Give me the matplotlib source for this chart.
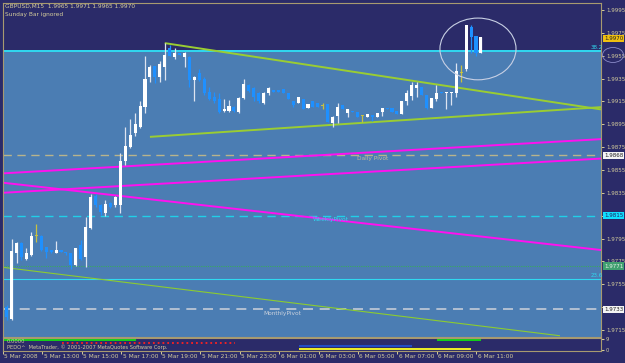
import numpy as np
import matplotlib
matplotlib.use("Agg")
import matplotlib.pyplot as plt
from matplotlib import font_manager
from matplotlib.patches import Ellipse
import matplotlib.transforms as mtransforms

# ---- data (GBPUSD M15) ----
opens = [1.9750, 1.9735, 1.9725, 1.9782, 1.9791, 1.9777, 1.9781, 1.9797, 1.9797, 1.9788,
         1.9785, 1.9782, 1.9785, 1.9783, 1.9782, 1.9772, 1.9789, 1.9779, 1.9804, 1.9832,
         1.9824, 1.9817, 1.9826, 1.9824, 1.9824, 1.9863, 1.9875, 1.9887, 1.9893, 1.9910,
         1.9936, 1.9946, 1.9936, 1.9945, 1.9962, 1.9954, 1.9957, 1.9954, 1.9954, 1.9934,
         1.9940, 1.9935, 1.9923, 1.9919, 1.9917, 1.9907, 1.9907, 1.9910, 1.9906, 1.9918,
         1.9929, 1.9927, 1.9922, 1.9914, 1.9922, 1.9925, 1.9925, 1.9926, 1.9922, 1.9915,
         1.9914, 1.9917, 1.9909, 1.9915, 1.9914, 1.9911, 1.9913, 1.9896, 1.9902, 1.9912,
         1.9905, 1.9907, 1.9906, 1.9902, 1.9901, 1.9903, 1.9901, 1.9906, 1.9909, 1.9909,
         1.9907, 1.9904, 1.9915, 1.9920, 1.9927, 1.9928, 1.9921, 1.9909, 1.9917, 1.9923,
         1.9922, 1.9922, 1.9922, 1.9940, 1.9943, 1.9980, 1.9972, 1.9957]
highs = [1.9750, 1.9737, 1.9795, 1.9792, 1.9792, 1.9787, 1.9801, 1.9808, 1.9798, 1.9788,
         1.9785, 1.9793, 1.9785, 1.9783, 1.9782, 1.9787, 1.9794, 1.9814, 1.9834, 1.9834,
         1.9825, 1.9829, 1.9827, 1.9832, 1.9870, 1.9893, 1.9900, 1.9905, 1.9915, 1.9955,
         1.9947, 1.9946, 1.9950, 1.9966, 1.9964, 1.9962, 1.9957, 1.9958, 1.9955, 1.9937,
         1.9943, 1.9936, 1.9928, 1.9923, 1.9922, 1.9917, 1.9916, 1.9911, 1.9919, 1.9935,
         1.9930, 1.9928, 1.9923, 1.9923, 1.9928, 1.9925, 1.9925, 1.9926, 1.9922, 1.9915,
         1.9919, 1.9917, 1.9913, 1.9915, 1.9914, 1.9914, 1.9913, 1.9902, 1.9914, 1.9912,
         1.9908, 1.9907, 1.9906, 1.9903, 1.9904, 1.9903, 1.9905, 1.9909, 1.9909, 1.9909,
         1.9907, 1.9915, 1.9925, 1.9932, 1.9932, 1.9928, 1.9921, 1.9918, 1.9929, 1.9923,
         1.9923, 1.9923, 1.9949, 1.9947, 1.9982, 1.9982, 1.9972, 1.9971]
lows = [1.9724, 1.9724, 1.9724, 1.9774, 1.9776, 1.9776, 1.9780, 1.9792, 1.9784, 1.9778,
        1.9782, 1.9782, 1.9783, 1.9781, 1.9768, 1.9771, 1.9776, 1.9770, 1.9803, 1.9823,
        1.9816, 1.9815, 1.9822, 1.9823, 1.9817, 1.9859, 1.9874, 1.9885, 1.9892, 1.9905,
        1.9932, 1.9931, 1.9932, 1.9934, 1.9955, 1.9952, 1.9956, 1.9945, 1.9928, 1.9915,
        1.9933, 1.9921, 1.9916, 1.9914, 1.9905, 1.9906, 1.9906, 1.9906, 1.9905, 1.9917,
        1.9923, 1.9915, 1.9914, 1.9913, 1.9921, 1.9923, 1.9923, 1.9922, 1.9917, 1.9910,
        1.9914, 1.9908, 1.9909, 1.9910, 1.9910, 1.9908, 1.9897, 1.9893, 1.9896, 1.9908,
        1.9901, 1.9906, 1.9901, 1.9897, 1.9901, 1.9898, 1.9901, 1.9902, 1.9908, 1.9906,
        1.9904, 1.9904, 1.9912, 1.9916, 1.9919, 1.9921, 1.9908, 1.9909, 1.9915, 1.9922,
        1.9908, 1.9912, 1.9919, 1.9932, 1.9942, 1.9957, 1.9955, 1.9957]
closes = [1.9737, 1.9726, 1.9784, 1.9791, 1.9779, 1.9782, 1.9797, 1.9797, 1.9785, 1.9783,
          1.9783, 1.9785, 1.9783, 1.9782, 1.9772, 1.9787, 1.9777, 1.9805, 1.9831, 1.9824,
          1.9818, 1.9825, 1.9823, 1.9831, 1.9863, 1.9876, 1.9886, 1.9895, 1.9911, 1.9935,
          1.9945, 1.9936, 1.9948, 1.9956, 1.9955, 1.9957, 1.9956, 1.9957, 1.9934, 1.9936,
          1.9934, 1.9922, 1.9917, 1.9915, 1.9906, 1.9908, 1.9911, 1.9907, 1.9918, 1.9930,
          1.9924, 1.9919, 1.9915, 1.9922, 1.9927, 1.9923, 1.9923, 1.9922, 1.9917, 1.9912,
          1.9919, 1.9908, 1.9913, 1.9910, 1.9910, 1.9911, 1.9897, 1.9901, 1.9910, 1.9908,
          1.9908, 1.9906, 1.9901, 1.9902, 1.9904, 1.9901, 1.9905, 1.9909, 1.9908, 1.9906,
          1.9904, 1.9915, 1.9922, 1.9929, 1.9929, 1.9921, 1.9909, 1.9918, 1.9922, 1.9922,
          1.9923, 1.9923, 1.9942, 1.9940, 1.9982, 1.9971, 1.9957, 1.9971]

time_labels = ["5 Mar 2008", "5 Mar 13:00", "5 Mar 15:00", "5 Mar 17:00", "5 Mar 19:00",
               "5 Mar 21:00", "5 Mar 23:00", "6 Mar 01:00", "6 Mar 03:00", "6 Mar 05:00",
               "6 Mar 07:00", "6 Mar 09:00", "6 Mar 11:00"]
price_ticks = [1.9715, 1.9735, 1.9755, 1.9775, 1.9795, 1.9815, 1.9835, 1.9855, 1.9875,
               1.9895, 1.9915, 1.9935, 1.9955, 1.9975, 1.9995]

daily_pivot = 1.9868
weekly_pivot = 1.9815
monthly_pivot = 1.9733
green_level = 1.9771
fib_382 = 1.99592
fib_236 = 1.97596
last_price = 1.9970

# trend lines: (bar0, price0, bar1, price1)
tri_upper = (33, 1.9966, 121.3, 1.9908)
tri_lower = (30, 1.9884, 121.3, 1.9910)
long_green = (0, 1.9770, 113, 1.9710)
magenta_lines = [(0, 1.9852, 121.3, 1.9882),
                 (0, 1.9835, 121.3, 1.9865),
                 (0, 1.9844, 121.3, 1.9785)]

# sub-window indicator segments: (first bar, last bar, level)
ind_green = [(0, 27, 8.4), (88, 97, 8.4)]
ind_red = [(12, 47, 6.0)]
ind_blue = [(60, 83, 3.5)]
ind_yellow = [(60, 95, 1.1)]

# ---- look ----
names = {f.name for f in font_manager.fontManager.ttflist}
FONT = "Liberation Sans Narrow" if "Liberation Sans Narrow" in names else "DejaVu Sans"
plt.rcParams["font.family"] = [FONT, "DejaVu Sans"]
FS = 5.0 if FONT != "DejaVu Sans" else 4.0

NAVY = "#2b2b69"
FILL = "#4b7db3"
FRAME = "#a89a70"
TXT = "#d4cc9c"
BULL = "white"
BEAR = "#1e90ff"
DOJI = "#c8c040"

W, H = 625, 363
fig = plt.figure(figsize=(W / 100, H / 100), dpi=100, facecolor=NAVY)
ax = fig.add_axes([3 / W, (H - 337) / H, 598 / W, 334 / H])
sub = fig.add_axes([3 / W, (H - 351) / H, 598 / W, 13 / H])

x0, x1 = 0.26, 121.3
y0, y1 = 1.97089, 2.00011
ax.set_xlim(x0, x1)
ax.set_ylim(y0, y1)
ax.set_facecolor(NAVY)
ax.axhspan(y0, fib_382 + 0.00005, facecolor=FILL, edgecolor="none", zorder=0)

# horizontal levels
ax.axhline(fib_382, color="#30d8f0", lw=1.4, zorder=1)
ax.axhline(fib_236, color="#30d8f0", lw=0.8, zorder=1)
ax.axhline(daily_pivot, color="#b8b48c", lw=1.0, dashes=(6, 4), zorder=1)
ax.axhline(weekly_pivot, color="#20d0e8", lw=1.0, dashes=(6, 4), zorder=1)
ax.axhline(monthly_pivot, color="#c4ccd8", lw=1.2, dashes=(6, 4), zorder=1)
ax.axhline(green_level, color="#3aa860", lw=0.8, dashes=(1, 1), zorder=1)

# trend lines
for (a0, p0, a1, p1), c, lw in [(tri_upper, "#9acd32", 1.4), (tri_lower, "#9acd32", 1.4),
                                 (long_green, "#8ccc30", 0.8)]:
    ax.plot([a0, a1], [p0, p1], color=c, lw=lw, zorder=2, solid_capstyle="butt")
for a0, p0, a1, p1 in magenta_lines:
    ax.plot([a0, a1], [p0, p1], color="#ff10f0", lw=1.4, zorder=2)

# candles
o = np.array(opens); h = np.array(highs); l = np.array(lows); c = np.array(closes)
idx = np.arange(len(o))
cols = np.where(c > o, BULL, np.where(c < o, BEAR, DOJI))
wick_cols = np.where(c > o, "#dde4f0", np.where(c < o, BEAR, DOJI))
ax.vlines(idx, l, h, colors=wick_cols, lw=0.9, zorder=3)
body_lo = np.minimum(o, c)
body_h = np.maximum(np.abs(c - o), 0.00009)
ax.bar(idx, body_h, bottom=body_lo, width=0.62, color=cols, edgecolor="none", zorder=4)

# circle around the breakout
ax.add_patch(Ellipse((96.4, 1.99609), 15.4, 0.0054, fill=False, edgecolor="#c8d0e4",
                     lw=0.8, zorder=5))

# level labels on the chart
ax.text(72, daily_pivot - 0.0001, "Daily Pivot", color="#c4bc98", fontsize=FS + 0.2,
        va="top", zorder=6)
ax.text(63, weekly_pivot - 0.0001, "WeeklyPivot", color="#30d8f0", fontsize=FS + 0.2,
        va="top", zorder=6)
ax.text(53, monthly_pivot - 0.0001, "MonthlyPivot", color="#c8d0dc", fontsize=FS + 0.2,
        va="top", zorder=6)
ax.text(119.2, fib_382 + 0.0001, "38.2", color="#30d8f0", fontsize=FS, va="bottom", zorder=6)
ax.text(119.2, fib_236 + 0.0001, "23.6", color="#30d8f0", fontsize=FS, va="bottom", zorder=6)

# right price axis
ax.yaxis.tick_right()
ax.set_yticks(price_ticks)
ax.set_yticklabels(["" if p in (1.9815, 1.9735) else f"{p:.4f}" for p in price_ticks])
ax.tick_params(axis="y", colors=TXT, labelsize=FS, length=2.5, width=0.7, pad=1)
ax.set_xticks([])
for s in ax.spines.values():
    s.set_color(FRAME)
    s.set_linewidth(0.8)

# price boxes on axis
trans = mtransforms.blended_transform_factory(ax.transAxes, ax.transData)
for val, fc, tc in [(last_price, "#f0c010", "#202020"), (daily_pivot, "#f4f4f4", "#202020"),
                    (weekly_pivot, "#10e0ff", "#202060"), (green_level, "#40a070", "#e8f0e8"),
                    (monthly_pivot, "#f4f4f4", "#202020")]:
    ax.text(1.005, val, f"{val:.4f}", transform=trans, fontsize=FS, color=tc, va="center",
            ha="left", zorder=10, clip_on=False,
            bbox=dict(boxstyle="square,pad=0.2", fc=fc, ec="none"))

# small ellipse around 1.9955 label
fig.patches.append(Ellipse((613 / W, 1 - 55 / H), 21 / W, 15 / H, transform=fig.transFigure,
                           fill=False, edgecolor="#8a8ac8", lw=0.6))

# header text
fig.text(5 / W, 1 - 4 / H, "GBPUSD,M15  1.9965 1.9971 1.9965 1.9970", color=TXT,
         fontsize=FS + 0.2, va="top", ha="left")
fig.text(5 / W, 1 - 12 / H, "Sunday Bar ignored", color=TXT, fontsize=FS + 0.2,
         va="top", ha="left")

# ---- sub window ----
sub.set_facecolor(NAVY)
sub.set_xlim(x0, x1)
sub.set_ylim(-0.5, 10)
for segs, col, st in [(ind_green, "#10e010", "-"), (ind_red, "#ff2020", ":"),
                      (ind_blue, "#2050d0", "-"), (ind_yellow, "#ffff20", "-")]:
    for a, b, v in segs:
        sub.plot([a, b], [v, v], color=col, lw=1.3, ls=st, solid_capstyle="butt")
sub.text(0.8, 7.2, "0.0000", color=TXT, fontsize=FS - 0.3, va="center")
sub.text(0.8, 2.8, "PEDO^  MetaTrader, \u00a9 2001-2007 MetaQuotes Software Corp.",
         color=TXT, fontsize=FS - 0.3, va="center")
sub.yaxis.tick_right()
sub.set_yticks([0, 9])
sub.set_yticklabels(["0", "9"])
sub.tick_params(axis="y", colors=TXT, labelsize=FS - 0.3, length=2, pad=1.5)
tick_pos = np.arange(0, 97, 8)
sub.set_xticks(tick_pos)
sub.set_xticklabels([])
sub.tick_params(axis="x", colors=TXT, length=2.5, width=0.7)
for s in sub.spines.values():
    s.set_color(FRAME)
    s.set_linewidth(0.8)
tb = mtransforms.blended_transform_factory(sub.transData, sub.transAxes)
for p, lab in zip(tick_pos, time_labels):
    sub.text(p + 0.3, -0.25, lab, transform=tb, color=TXT, fontsize=FS + 0.2, va="top",
             ha="left", clip_on=False)

fig.savefig("out.png", dpi=100, facecolor=NAVY)
